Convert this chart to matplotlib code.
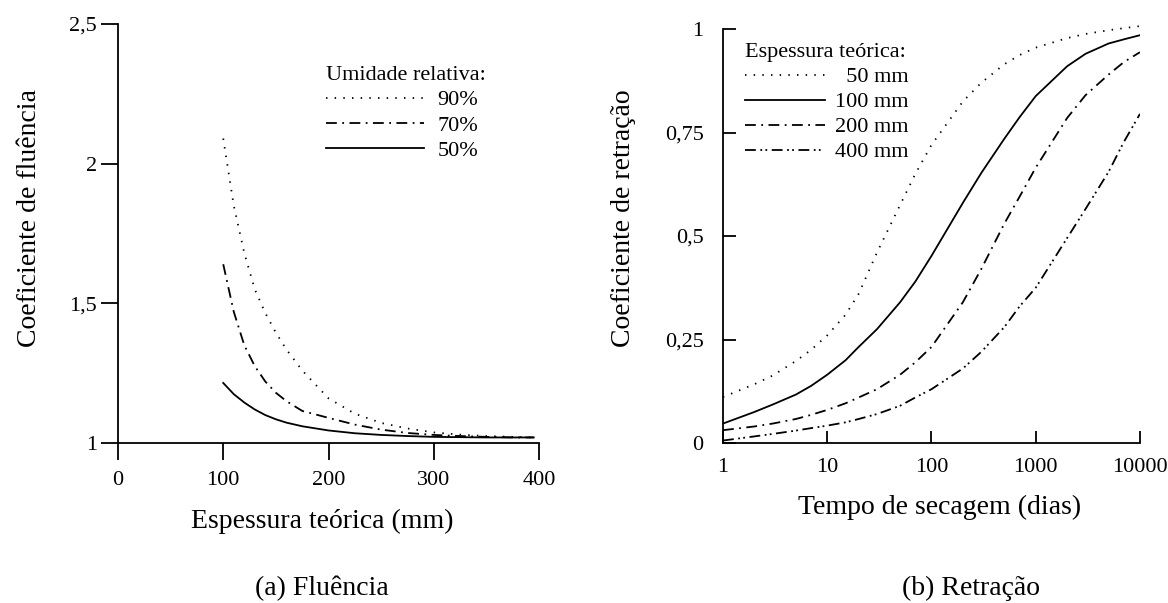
import matplotlib
matplotlib.use('Agg')
import matplotlib.pyplot as plt

plt.rcParams['font.family'] = ['Liberation Serif', 'DejaVu Serif']

# (a) creep coefficient vs notional thickness, per relative humidity
thick_mm = [100, 110, 120, 130, 140, 150, 160, 175, 200, 225, 250, 275, 300, 325, 350, 375, 395]
creep_90 = [2.09, 1.85, 1.68, 1.55, 1.465, 1.395, 1.335, 1.26, 1.16, 1.105, 1.072, 1.052, 1.038, 1.03, 1.025, 1.022, 1.02]
creep_70 = [1.64, 1.47, 1.35, 1.275, 1.22, 1.18, 1.15, 1.115, 1.09, 1.066, 1.048, 1.036, 1.029, 1.025, 1.022, 1.02, 1.02]
creep_50 = [1.215, 1.175, 1.145, 1.12, 1.10, 1.085, 1.073, 1.06, 1.045, 1.035, 1.029, 1.025, 1.022, 1.021, 1.02, 1.02, 1.02]
humid_labels = ['90%', '70%', '50%']

# (b) shrinkage coefficient vs drying time, per notional thickness
days = [1, 2, 3, 5, 7, 10, 15, 20, 30, 50, 70, 100, 200, 300, 500, 700, 1000, 2000, 3000, 5000, 7000, 10000]
shr_50 = [0.111, 0.142, 0.163, 0.198, 0.225, 0.26, 0.31, 0.36, 0.46, 0.575, 0.65, 0.72, 0.825, 0.87, 0.915, 0.937, 0.955, 0.978, 0.988, 0.997, 1.002, 1.007]
shr_100 = [0.047, 0.075, 0.093, 0.117, 0.138, 0.165, 0.2, 0.232, 0.275, 0.34, 0.39, 0.452, 0.58, 0.652, 0.735, 0.787, 0.838, 0.91, 0.94, 0.965, 0.975, 0.985]
shr_200 = [0.031, 0.04, 0.047, 0.058, 0.068, 0.08, 0.096, 0.11, 0.13, 0.165, 0.195, 0.232, 0.34, 0.42, 0.53, 0.595, 0.665, 0.785, 0.84, 0.89, 0.92, 0.944]
shr_400 = [0.006, 0.016, 0.022, 0.03, 0.036, 0.042, 0.05, 0.058, 0.07, 0.09, 0.11, 0.13, 0.18, 0.22, 0.28, 0.33, 0.375, 0.495, 0.565, 0.655, 0.727, 0.795]
thick_labels = ['  50 mm', '100 mm', '200 mm', '400 mm']

dotted = (0, (0.8, 4))
dashdot = (0, (6, 3, 1, 3))
dashdotdot = (0, (6, 2.5, 1, 1.8, 1, 2.5))
lw = 1.3

fig = plt.figure(figsize=(11.68, 6.03), dpi=100)
ax1 = fig.add_axes([0.101, 0.2653, 0.3605, 0.6949])
ax2 = fig.add_axes([0.619, 0.2653, 0.357, 0.6866])

# ---- (a) ----
ax1.plot(thick_mm, creep_90, color='black', lw=lw, linestyle=dotted, label=humid_labels[0])
ax1.plot(thick_mm, creep_70, color='black', lw=lw, linestyle=dashdot, label=humid_labels[1])
ax1.plot(thick_mm, creep_50, color='black', lw=lw, linestyle='-', label=humid_labels[2])
ax1.set_xlim(0, 400)
ax1.set_ylim(1, 2.5)
ax1.set_xticks([0, 100, 200, 300, 400])
ax1.set_yticks([1, 1.5, 2, 2.5])
ax1.set_yticklabels(['1', '1,5', '2', '2,5'])
ax1.tick_params(direction='out', length=12, width=1.3, labelsize=16)
ax1.tick_params(axis='x', pad=8)
ax1.tick_params(axis='y', pad=3)
ax1.set_xlabel('Espessura teórica (mm)', fontsize=20)
ax1.set_ylabel('Coeficiente de fluência', fontsize=20)
ax1.xaxis.set_label_coords(0.4846, -0.186)
ax1.xaxis.label.set_va('center')
ax1.yaxis.set_label_coords(-0.21, 0.537)
ax1.yaxis.label.set_va('center')
ax1.legend(loc='upper left', bbox_to_anchor=(0.495, 0.9), frameon=False, fontsize=16,
           title='Umidade relativa:', title_fontsize=16, alignment='left',
           handlelength=4.4, handletextpad=0.6, labelspacing=0.22, borderpad=0, borderaxespad=0)

# ---- (b) ----
ax2.plot(days, shr_50, color='black', lw=lw, linestyle=dotted, label=thick_labels[0], clip_on=False)
ax2.plot(days, shr_100, color='black', lw=lw, linestyle='-', label=thick_labels[1])
ax2.plot(days, shr_200, color='black', lw=lw, linestyle=dashdot, label=thick_labels[2])
ax2.plot(days, shr_400, color='black', lw=lw, linestyle=dashdotdot, label=thick_labels[3])
ax2.set_xscale('log')
ax2.set_xlim(1, 10000)
ax2.set_ylim(0, 1)
ax2.set_xticks([1, 10, 100, 1000, 10000])
ax2.set_xticklabels(['1', '10', '100', '1000', '10000'])
ax2.minorticks_off()
ax2.set_yticks([0, 0.25, 0.5, 0.75, 1])
ax2.set_yticklabels(['0', '0,25', '0,5', '0,75', '1'])
ax2.tick_params(direction='in', length=9, width=1.3, labelsize=16)
ax2.tick_params(axis='x', pad=11)
ax2.tick_params(axis='y', pad=14)
ax2.set_xlabel('Tempo de secagem (dias)', fontsize=20)
ax2.set_ylabel('Coeficiente de retração', fontsize=20)
ax2.xaxis.set_label_coords(0.52, -0.155)
ax2.xaxis.label.set_va('center')
ax2.yaxis.set_label_coords(-0.2386, 0.5435)
ax2.yaxis.label.set_va('center')
ax2.legend(loc='upper left', bbox_to_anchor=(0.053, 0.965), frameon=False, fontsize=16,
           title='Espessura teórica:', title_fontsize=16, alignment='left',
           handlelength=3.6, handletextpad=0.45, labelspacing=0.2, borderpad=0, borderaxespad=0)

for ax in (ax1, ax2):
    ax.spines['top'].set_visible(False)
    ax.spines['right'].set_visible(False)
    ax.spines['left'].set_linewidth(1.3)
    ax.spines['bottom'].set_linewidth(1.3)

fig.text(0.2757, 1 - 588 / 603, '(a) Fluência', fontsize=20, ha='center', va='center')
fig.text(0.8313, 1 - 588 / 603, '(b) Retração', fontsize=20, ha='center', va='center')

fig.savefig('out.png', dpi=100)
